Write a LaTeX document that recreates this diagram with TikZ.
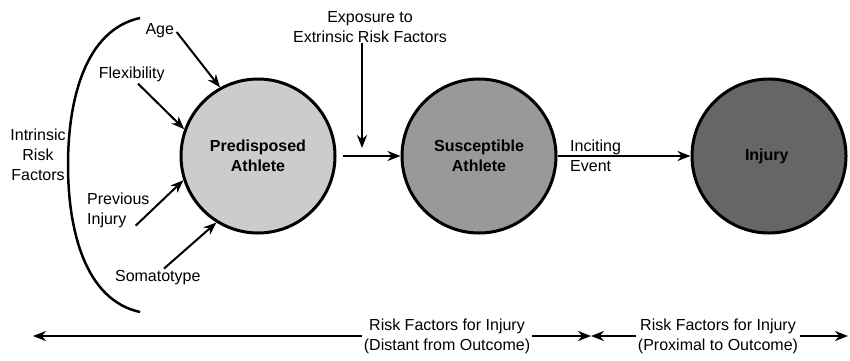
\documentclass[tikz,border=0pt]{standalone}
\usepackage{fontspec}
\setmainfont{Liberation Sans}
\usetikzlibrary{arrows.meta}
\definecolor{pale}{RGB}{204, 204, 204}
\definecolor{medium}{RGB}{153, 153, 153}
\definecolor{deep}{RGB}{102, 102, 102}

\begin{document}
\begin{tikzpicture}[x=1pt, y=-1pt,
  every node/.style={font=\fontsize{16}{20}\selectfont},
  stage/.style={circle, draw, line width=3, minimum size=154, align=center,
    font=\fontsize{16}{20}\selectfont\bfseries},
  factor/.style={align=center, inner sep=2},
  arr/.style={-{Stealth[length=13pt, width=10pt]}, line width=2}]

  \useasboundingbox (0, 0) rectangle (850, 360);

  \node[stage, fill=pale] (pred) at (258, 156) { Predisposed\\Athlete };
  \node[stage, fill=medium] (susc) at (479, 156) { Susceptible\\Athlete };
  \node[stage, fill=deep] (inj) at (769, 156) { Injury };

  \node[factor] (age) at (162, 31) { Age };
  \node[factor] (flex) at (134, 74) { Flexibility };
  \node[factor, align=left, anchor=west] (prev) at (85, 210) { Previous\\Injury };
  \node[factor] (soma) at (160, 278) { Somatotype };
  \node[factor] (intr) at (38, 155) { Intrinsic\\Risk\\Factors };

  \draw[line width=2.5] (140, 18) .. controls (85, 30) and (68, 100) .. (68, 165)
    .. controls (68, 230) and (85, 300) .. (140, 312);

  \draw[arr] ([shift={(-4, 1)}]age.east) -- (pred.119);
  \draw[arr] ([xshift=4]flex.south) -- (pred.160);
  \draw[arr] ([shift={(-16, -4)}]prev.south east) -- (pred.198);
  \draw[arr] ([xshift=4]soma.north) -- (pred.238);

  \node[factor] (expo) at (370, 27) { Exposure to\\Extrinsic Risk Factors };
  \coordinate (hit) at (362, 148);
  \draw[arr] ([yshift=2]expo.south -| hit) -- (hit);

  \draw[arr, shorten <=6] (pred) -- (susc);

  \node[factor, align=left, anchor=west] (inci) at (568, 156) { Inciting\\Event };
  \draw[arr] (susc) -- (inj);

  \coordinate (far) at (33, 336);
  \coordinate (split) at (591, 336);
  \coordinate (near) at (848, 336);
  \node[factor] (distant) at (447, 336) { Risk Factors for Injury\\(Distant from Outcome) };
  \node[factor] (proximal) at (718, 336) { Risk Factors for Injury\\(Proximal to Outcome) };

  \draw[arr] (distant) -- (far);
  \draw[arr] (distant) -- (split);
  \draw[arr] (proximal) -- (split);
  \draw[arr] (proximal) -- (near);

\end{tikzpicture}
\end{document}
